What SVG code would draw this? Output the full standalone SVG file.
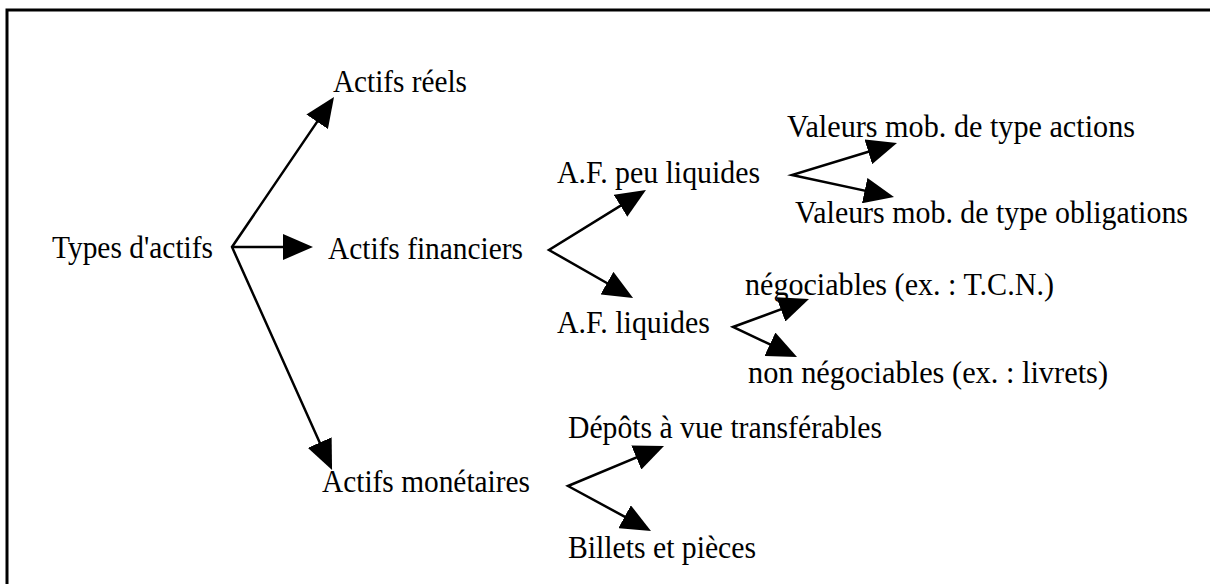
<svg xmlns="http://www.w3.org/2000/svg" width="1210" height="584" viewBox="0 0 1210 584">
  <style>
    text { font-family: "Liberation Serif", "Times New Roman", serif; font-size: 31px; fill: #000; }
    .c { fill: none; stroke: #000; stroke-width: 2.5; stroke-linejoin: miter; }
  </style>
  <defs>
    <marker id="ah" viewBox="0 0 30 26" refX="25" refY="13" markerWidth="30" markerHeight="26" markerUnits="userSpaceOnUse" orient="auto-start-reverse">
      <path d="M0,0 L30,13 L0,26 Z" fill="#000"/>
    </marker>
  </defs>
  <rect width="1210" height="584" fill="#fff"/>
  <rect x="7" y="10" width="1220" height="600" fill="none" stroke="#000" stroke-width="3"/>

  <g id="connectors">
    <path class="c" d="M331.2,101.1 L232,247 L330,465.4" marker-start="url(#ah)" marker-end="url(#ah)"/>
    <path class="c" d="M232,247 L308,247" marker-end="url(#ah)"/>
    <path class="c" d="M641.7,192.6 L549,250 L628.7,295.5" marker-start="url(#ah)" marker-end="url(#ah)"/>
    <path class="c" d="M892.2,144.5 L792,175 L889.1,195.9" marker-start="url(#ah)" marker-end="url(#ah)"/>
    <path class="c" d="M804.3,300.7 L733,327 L792.5,354.9" marker-start="url(#ah)" marker-end="url(#ah)"/>
    <path class="c" d="M659.4,447.9 L568,486 L646.6,528.6" marker-start="url(#ah)" marker-end="url(#ah)"/>
  </g>

  <g id="types"><text x="52" y="258" textLength="161" lengthAdjust="spacingAndGlyphs">Types d'actifs</text></g>
  <g id="reels"><text x="333" y="92" textLength="134" lengthAdjust="spacingAndGlyphs">Actifs réels</text></g>
  <g id="financiers"><text x="328" y="259" textLength="195" lengthAdjust="spacingAndGlyphs">Actifs financiers</text></g>
  <g id="monetaires"><text x="322" y="492" textLength="208" lengthAdjust="spacingAndGlyphs">Actifs monétaires</text></g>
  <g id="peu-liquides"><text x="557" y="183" textLength="203" lengthAdjust="spacingAndGlyphs">A.F. peu liquides</text></g>
  <g id="liquides"><text x="557" y="333" textLength="153" lengthAdjust="spacingAndGlyphs">A.F. liquides</text></g>
  <g id="actions"><text x="787" y="137" textLength="348" lengthAdjust="spacingAndGlyphs">Valeurs mob. de type actions</text></g>
  <g id="obligations"><text x="795" y="223" textLength="393" lengthAdjust="spacingAndGlyphs">Valeurs mob. de type obligations</text></g>
  <g id="negociables"><text x="745" y="295" textLength="309" lengthAdjust="spacingAndGlyphs">négociables (ex. : T.C.N.)</text></g>
  <g id="non-negociables"><text x="748" y="383" textLength="360" lengthAdjust="spacingAndGlyphs">non négociables (ex. : livrets)</text></g>
  <g id="depots"><text x="568" y="438" textLength="314" lengthAdjust="spacingAndGlyphs">Dépôts à vue transférables</text></g>
  <g id="billets"><text x="568" y="558" textLength="188" lengthAdjust="spacingAndGlyphs">Billets et pièces</text></g>
</svg>
